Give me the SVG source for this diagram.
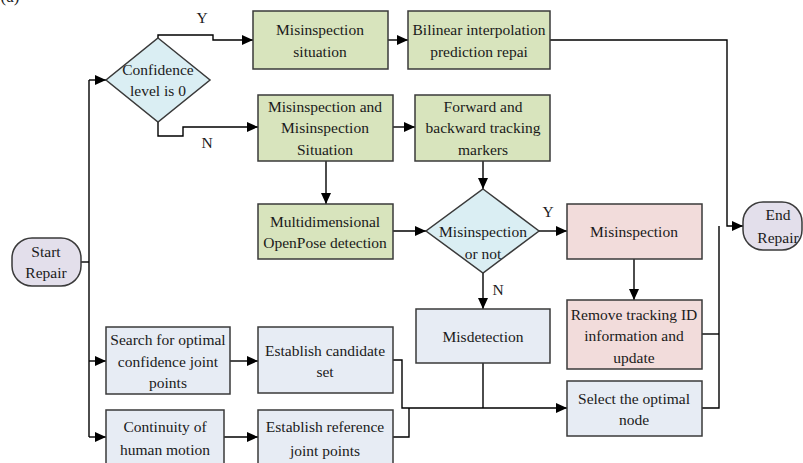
<svg xmlns="http://www.w3.org/2000/svg" width="803" height="463" viewBox="0 0 803 463" font-family="'Liberation Serif', 'DejaVu Serif', serif">
  <defs>
    <marker id="arrow" markerUnits="userSpaceOnUse" markerWidth="12" markerHeight="10" refX="11" refY="5" orient="auto">
      <path d="M0,0 L11,5 L0,10 Z" fill="#000"/>
    </marker>
    <style>
      .box { stroke: #3a3a3a; stroke-width: 1.5; }
      .green { fill: #d8e4bd; }
      .blue { fill: #daeef3; }
      .grey { fill: #e7ecf4; }
      .pink { fill: #f2dcdb; }
      .lav { fill: #e3dfeb; }
      .wire { fill: none; stroke: #000; stroke-width: 1.4; }
      .arr { marker-end: url(#arrow); }
      text { font-family: 'Liberation Serif', 'DejaVu Serif', serif; font-size: 15.5px; fill: #1a1a1a; text-anchor: middle; }
      .lbl { font-size: 17px; }
    </style>
  </defs>
  <rect width="803" height="463" fill="#fff"/>

  <text class="lbl" x="10" y="2">(a)</text>

  <!-- connectors -->
  <g id="connectors">
    <!-- trunk from start -->
    <path class="wire" d="M81,262 H89"/>
    <path class="wire" d="M89,437 V80"/>
    <path class="wire arr" d="M89,80 H106"/>
    <path class="wire arr" d="M89,361 H106"/>
    <path class="wire arr" d="M89,437 H106"/>
    <!-- confidence decision -->
    <path class="wire arr" d="M158,38 V35 H213 V40 H253"/>
    <path class="wire arr" d="M158,122 V136 H183 V127 H258"/>
    <path class="wire arr" d="M388,40 H408"/>
    <path class="wire arr" d="M550,40 H727 V226 H743"/>
    <path class="wire arr" d="M393,127 H415"/>
    <path class="wire arr" d="M326,161 V204"/>
    <path class="wire arr" d="M483,161 V189"/>
    <path class="wire arr" d="M393,231 H426"/>
    <!-- misinspection decision -->
    <path class="wire arr" d="M539,231 H567"/>
    <path class="wire arr" d="M483,273 V309"/>
    <path class="wire arr" d="M634,259 V300"/>
    <path class="wire" d="M702,334 H719"/>
    <path class="wire" d="M702,408 H719 V226"/>
    <!-- lower branch -->
    <path class="wire arr" d="M230,361 H258"/>
    <path class="wire arr" d="M224,437 H258"/>
    <path class="wire arr" d="M393,360 H402 V408 H567"/>
    <path class="wire" d="M393,437 H409 V408"/>
    <path class="wire" d="M483,363 V408"/>
    <text x="202" y="23">Y</text>
    <text x="207" y="148">N</text>
    <text x="548" y="217">Y</text>
    <text x="498" y="295">N</text>
  </g>

  <g id="start">
    <rect class="box lav" x="12" y="238" width="69" height="48" rx="20"/>
    <text x="46" y="257">Start</text>
    <text x="46" y="278">Repair</text>
  </g>

  <g id="end">
    <rect class="box lav" x="743" y="202" width="59" height="48" rx="20"/>
    <text x="778" y="220">End</text>
    <text x="778" y="243">Repair</text>
  </g>

  <g id="confidence">
    <polygon class="box blue" points="158,38 210,80 158,122 106,80"/>
    <text x="158" y="75">Confidence</text>
    <text x="158" y="96">level is 0</text>
  </g>

  <g id="misinspection-situation">
    <rect class="box green" x="253" y="11" width="135" height="58"/>
    <text x="320" y="35">Misinspection</text>
    <text x="320" y="57">situation</text>
  </g>

  <g id="bilinear">
    <rect class="box green" x="408" y="11" width="142" height="58"/>
    <text x="479" y="35">Bilinear interpolation</text>
    <text x="479" y="57">prediction repai</text>
  </g>

  <g id="misinspection-and">
    <rect class="box green" x="258" y="95" width="135" height="66"/>
    <text x="325" y="112">Misinspection and</text>
    <text x="325" y="133">Misinspection</text>
    <text x="325" y="155">Situation</text>
  </g>

  <g id="tracking-markers">
    <rect class="box green" x="415" y="95" width="135" height="66"/>
    <text x="483" y="112">Forward and</text>
    <text x="483" y="133">backward tracking</text>
    <text x="483" y="155">markers</text>
  </g>

  <g id="openpose">
    <rect class="box green" x="258" y="204" width="135" height="55"/>
    <text x="325" y="227">Multidimensional</text>
    <text x="325" y="248">OpenPose detection</text>
  </g>

  <g id="misinspection-decision">
    <polygon class="box blue" points="483,189 539,231 483,273 426,231"/>
    <text x="483" y="237">Misinspection</text>
    <text x="483" y="259">or not</text>
  </g>

  <g id="misinspection">
    <rect class="box pink" x="567" y="204" width="135" height="55"/>
    <text x="634" y="237">Misinspection</text>
  </g>

  <g id="remove-id">
    <rect class="box pink" x="567" y="300" width="135" height="69"/>
    <text x="634" y="320">Remove tracking ID</text>
    <text x="634" y="341">information and</text>
    <text x="634" y="363">update</text>
  </g>

  <g id="misdetection">
    <rect class="box grey" x="416" y="309" width="134" height="54"/>
    <text x="483" y="342">Misdetection</text>
  </g>

  <g id="select-node">
    <rect class="box grey" x="567" y="381" width="135" height="55"/>
    <text x="634" y="404">Select the optimal</text>
    <text x="634" y="425">node</text>
  </g>

  <g id="search-joints">
    <rect class="box grey" x="106" y="327" width="124" height="67"/>
    <text x="168" y="345">Search for optimal</text>
    <text x="168" y="367">confidence joint</text>
    <text x="168" y="388">points</text>
  </g>

  <g id="candidate-set">
    <rect class="box grey" x="258" y="327" width="135" height="66"/>
    <text x="325" y="356">Establish candidate</text>
    <text x="325" y="377">set</text>
  </g>

  <g id="continuity">
    <rect class="box grey" x="106" y="410" width="118" height="60"/>
    <text x="165" y="432">Continuity of</text>
    <text x="165" y="455">human motion</text>
  </g>

  <g id="reference-joints">
    <rect class="box grey" x="258" y="410" width="135" height="60"/>
    <text x="325" y="432">Establish reference</text>
    <text x="325" y="456">joint points</text>
  </g>
</svg>
